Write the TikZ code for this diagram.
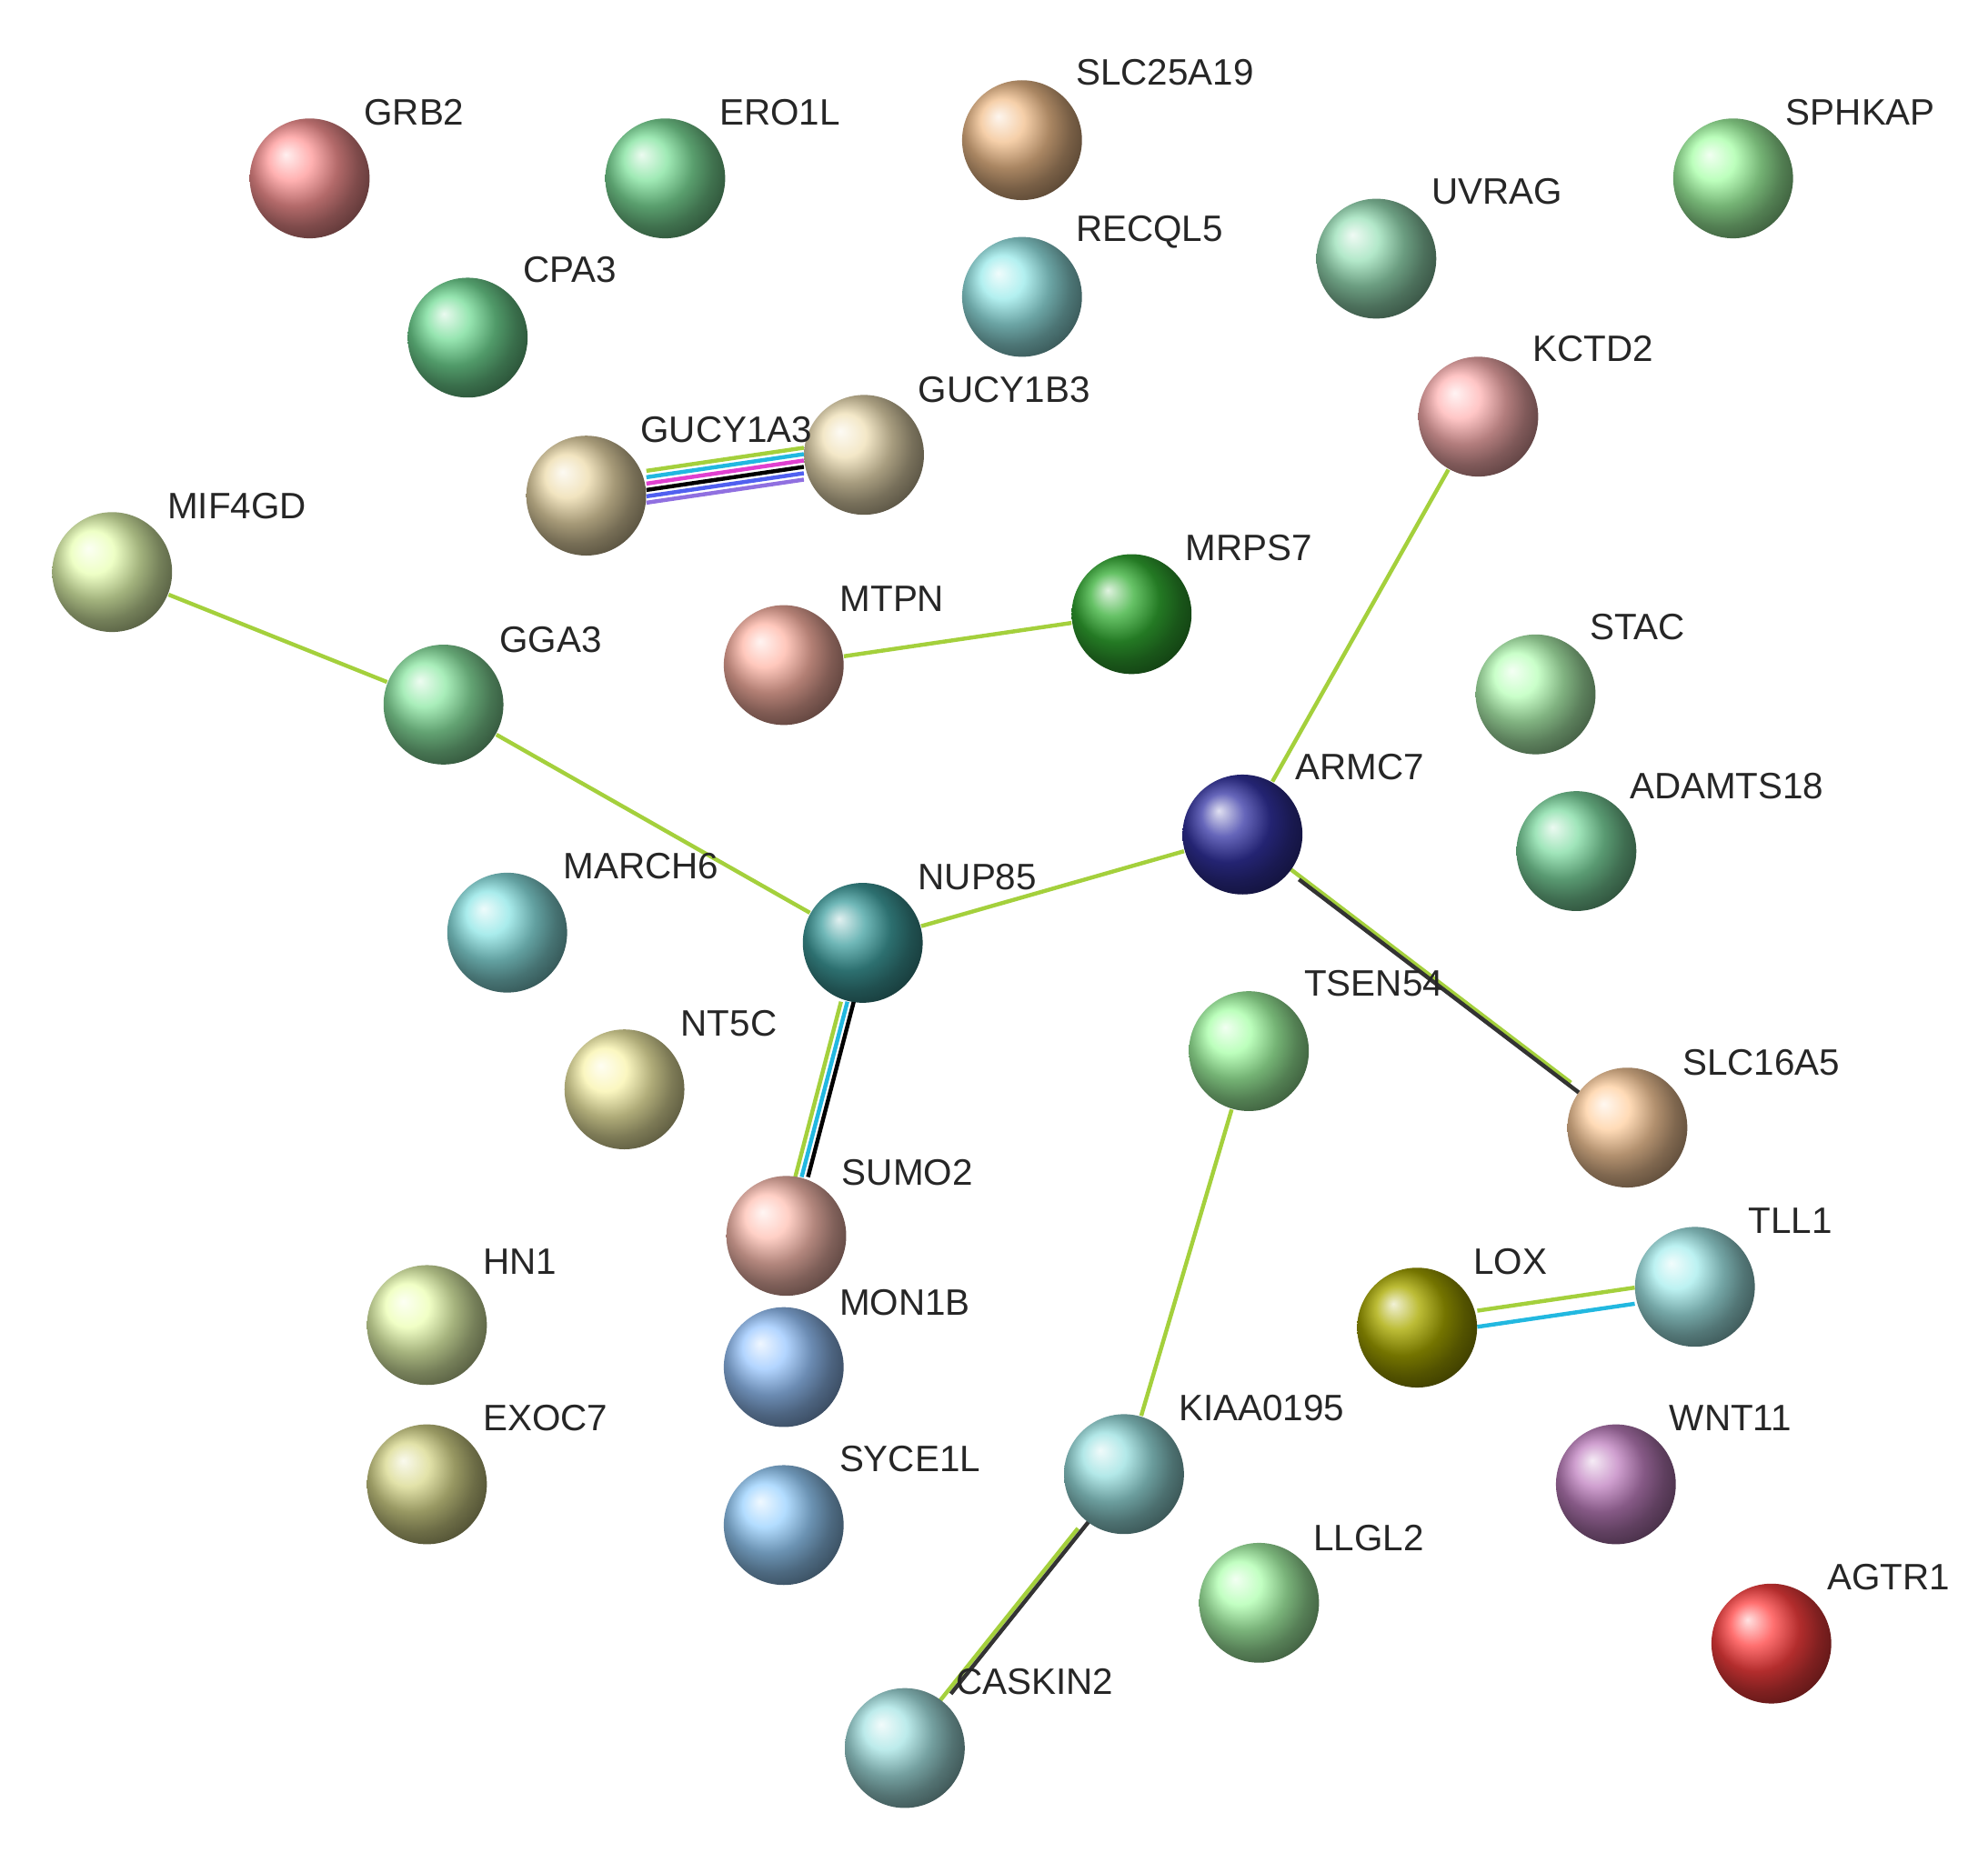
\documentclass[tikz,border=0pt]{standalone}
\usepackage{fontspec}
\setmainfont{Liberation Sans}
\usetikzlibrary{backgrounds}
\definecolor{eg}{HTML}{A4D03C}
\definecolor{ec}{HTML}{22B8E0}
\definecolor{em}{HTML}{E040D0}
\definecolor{eb}{HTML}{5060F0}
\definecolor{ep}{HTML}{9070E0}
\tikzset{
 prot/.style={circle,minimum size=0.94cm,inner sep=0pt,shading=ball,ball color=#1},
 lab/.style={font=\fontsize{8.2pt}{9pt}\selectfont,text=black!85,inner sep=0pt},
 edge/.style={line width=0.9pt}
}
\begin{document}
\begin{tikzpicture}[x=0.01cm,y=-0.01cm]
\useasboundingbox (0,0) rectangle (1560,1454);
\foreach \n/\x/\y/\c/\lx/\ly in {
GRB2/243/140/red!35!pink!80/325/88,
ERO1L/522/140/teal!45!green!50/612/88,
SLC25A19/802/110/brown!40!orange!50/914/57,
SPHKAP/1360/140/green!35/1460/88,
UVRAG/1080/203/green!40!teal!40/1175/150,
CPA3/367/265/teal!50!green!55/447/212,
RECQL5/802/233/teal!40!cyan!40/902/182,
KCTD2/1160/327/red!30/1250/274,
GUCY1B3/678/357/yellow!30!brown!35/788/306,
GUCY1A3/460/389/yellow!30!brown!40/570/337,
MIF4GD/88/449/green!30!yellow!30/186/397,
MRPS7/888/482/green!60!black!80/980/430,
MTPN/615/522/orange!35!red!35/700/470,
STAC/1205/545/green!28/1285/492,
GGA3/348/553/teal!40!green!45/432/502,
ARMC7/975/655/blue!55!black!80/1067/602,
ADAMTS18/1237/668/green!45!teal!50/1355/617,
MARCH6/398/732/teal!45!cyan!45/503/680,
NUP85/677/740/teal!75/767/688,
TSEN54/980/825/green!35/1078/772,
SLC16A5/1277/885/orange!38/1382/834,
NT5C/490/855/brown!25!yellow!35/572/803,
SUMO2/617/970/orange!35!red!30/712/920,
TLL1/1330/1010/teal!40!cyan!35/1405/958,
HN1/335/1040/green!25!yellow!30/408/990,
LOX/1112/1042/olive!70/1185/990,
MON1B/615/1073/cyan!45!blue!40/710/1022,
KIAA0195/882/1157/cyan!40!teal!40/990/1105,
WNT11/1268/1165/violet!50/1358/1113,
EXOC7/335/1165/olive!30/428/1113,
SYCE1L/615/1197/cyan!55!blue!40/714/1145,
LLGL2/988/1258/green!32/1074/1207,
AGTR1/1390/1290/red!75/1482/1238,
CASKIN2/710/1372/cyan!40!teal!35/812/1320}
{\node[prot=\c] (\n) at (\x,\y) {};
 \node[lab] (L\n) at (\lx,\ly) {\n};}
\begin{scope}[on background layer]
\draw[edge,eg] (MIF4GD)--(GGA3);
\draw[edge,eg] (GGA3)--(NUP85);
\draw[edge,eg] (NUP85)--(ARMC7);
\draw[edge,eg] (ARMC7)--(KCTD2);
\draw[edge,eg] (MTPN)--(MRPS7);
\draw[edge,eg] (TSEN54)--(KIAA0195);
\foreach \c/\d in {eg/-12.5,ec/-7.5,em/-2.5,black/2.5,eb/7.5,ep/12.5}
 \draw[edge,\c,transform canvas={yshift=-\d*0.01cm}] (GUCY1A3)--(GUCY1B3);
\foreach \c/\d in {eg/-5,ec/0,black/5}
 \draw[edge,\c,transform canvas={xshift=\d*0.01cm}] (NUP85)--(SUMO2);
\draw[edge,eg,transform canvas={shift={(-1.8pt,1.8pt)}}] (ARMC7)--(SLC16A5);
\draw[edge,black!80,transform canvas={shift={(1.8pt,-1.8pt)}}] (ARMC7)--(SLC16A5);
\draw[edge,eg,transform canvas={yshift=1.8pt}] (LOX)--(TLL1);
\draw[edge,ec,transform canvas={yshift=-1.8pt}] (LOX)--(TLL1);
\draw[edge,eg,transform canvas={shift={(-1.8pt,-1.5pt)}}] (KIAA0195)--(CASKIN2);
\draw[edge,black!80,transform canvas={shift={(1.8pt,1.5pt)}}] (KIAA0195)--(CASKIN2);
\end{scope}
\end{tikzpicture}
\end{document}
